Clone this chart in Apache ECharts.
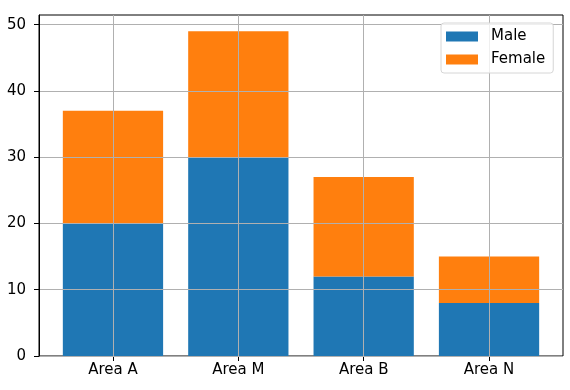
<!DOCTYPE html>
<html>
<head>
<meta charset="utf-8">
<script src="https://cdn.jsdelivr.net/npm/echarts@6/dist/echarts.min.js"></script>
<style>html,body{margin:0;padding:0;background:#fff;}#c{width:570px;height:390px;}</style>
</head>
<body>
<div id="c"></div>
<script>
const categories = ['Area A', 'Area M', 'Area B', 'Area N'];
const maleValues = [20, 30, 12, 8];
const femaleValues = [17, 19, 15, 7];
const yTicks = [0, 10, 20, 30, 40, 50];

const FONT = 'DejaVu Sans';
const FS = 15;
const chart = echarts.init(document.getElementById('c'), null, {renderer: 'canvas'});
const gridLine = {color: '#b0b0b0', width: 1};
chart.setOption({
  animation: false,
  textStyle: {fontFamily: FONT},
  legend: {
    orient: 'vertical',
    left: 441, top: 23,
    data: ['Male', 'Female'],
    icon: 'rect',
    itemWidth: 32, itemHeight: 10, itemGap: 8,
    padding: [6, 8, 6, 5],
    backgroundColor: 'rgba(255,255,255,0.8)',
    borderColor: '#d6d6d6', borderWidth: 1, borderRadius: 3,
    textStyle: {fontFamily: FONT, fontSize: FS, color: '#000', padding: [0, 0, 0, 8]},
    z: 10
  },
  grid: [
    {left: 39, top: 15, right: 7, bottom: 34, show: true, borderColor: '#000', borderWidth: 1, backgroundColor: 'transparent'},
    {left: 50.3, top: 15, right: 18.3, bottom: 34}
  ],
  xAxis: [
    {gridIndex: 0, type: 'value', min: 0, max: 1, show: false},
    {gridIndex: 1, type: 'category', data: categories,
     axisLine: {show: false},
     axisTick: {show: true, alignWithLabel: true, length: 5, lineStyle: {color: '#000'}},
     axisLabel: {fontFamily: FONT, fontSize: FS, color: '#000', margin: 7},
     splitLine: {show: false}}
  ],
  yAxis: [
    {gridIndex: 0, type: 'value', min: 0, max: 51.45, interval: 10, z: 5,
     axisLine: {show: true, lineStyle: {color: '#000'}},
     axisTick: {show: true, length: 5, lineStyle: {color: '#000'}, customValues: yTicks},
     axisLabel: {fontFamily: FONT, fontSize: FS, color: '#000', margin: 13, customValues: yTicks},
     splitLine: {show: true, lineStyle: gridLine}},
    {gridIndex: 1, type: 'value', min: 0, max: 51.45, show: false, splitLine: {show: false}}
  ],
  series: [
    {name: 'Male', type: 'bar', stack: 'total', xAxisIndex: 1, yAxisIndex: 1,
     barWidth: '80%', itemStyle: {color: '#1f77b4'}, data: maleValues, z: 2},
    {name: 'Female', type: 'bar', stack: 'total', xAxisIndex: 1, yAxisIndex: 1,
     barWidth: '80%', itemStyle: {color: '#ff7f0e'}, data: femaleValues, z: 2,
     markLine: {silent: true, symbol: 'none', label: {show: false},
       lineStyle: {color: '#b0b0b0', width: 1, type: 'solid'},
       data: categories.map(c => ({xAxis: c}))}}
  ]
});
</script>
</body>
</html>
